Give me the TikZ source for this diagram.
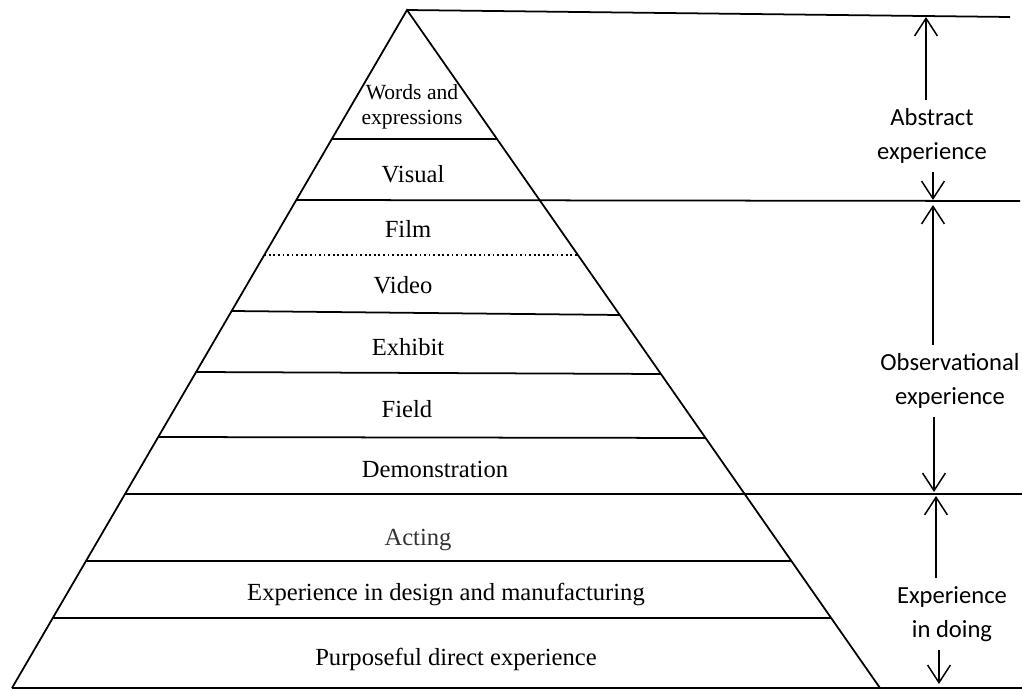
\documentclass[tikz,border=0pt]{standalone}
\usepackage{fontspec}
\setmainfont{Liberation Serif}
\newfontfamily\bandfont{Carlito}
\usetikzlibrary{arrows.meta,calc}

\begin{document}
\begin{tikzpicture}[x=0.02cm, y=-0.02cm,
  stroke/.style={line width=1pt, draw=black},
  level/.style={font=\fontsize{14}{16}\selectfont, anchor=base, inner sep=0pt},
  band/.style={font=\bandfont\fontsize{14}{19}\selectfont, align=center, inner sep=5pt},
  span/.style={-{Straight Barb[length=10pt,width=13pt,line width=0.85pt]}, line width=0.85pt},
]
\useasboundingbox (0,0) rectangle (1022,690);
\coordinate (apex) at (407,10);
\coordinate (bl) at (12,688);
\coordinate (br) at (880,688);
% pyramid and the long rules
\draw[stroke] (bl) -- (apex) -- (br);
\draw[stroke] (apex) -- (1010,17);
\draw[stroke] (bl) -- (1022,688);
\draw[stroke] ($(apex)!{190/678}!(bl)$) -- (1020,201);
\draw[stroke] ($(apex)!{484/678}!(bl)$) -- (1022,494);
\foreach \ya/\yb in {139/139, 311/315, 372/374, 437/438, 561/561, 618/618}
  \draw[stroke] ($(apex)!{(\ya-10)/678}!(bl)$) -- ($(apex)!{(\yb-10)/678}!(br)$);
\draw[line width=0.7pt, dash pattern=on 1pt off 1.6pt] ($(apex)!{245/678}!(bl)$) -- ($(apex)!{245/678}!(br)$);

% levels
\node[level, anchor=center, align=center, font=\fontsize{12.3}{14.2}\selectfont] (words) at (412,107) {Words and\\expressions};
\node[level] (visual) at (413,182) {Visual};
\node[level] (film) at (408,237) {Film};
\node[level] (video) at (403,293) {Video};
\node[level] (exhibit) at (408,355) {Exhibit};
\node[level] (field) at (407,417) {Field};
\node[level] (demo) at (435,477) {Demonstration};
\node[level, text=black!80] (acting) at (418,545) {Acting};
\node[level] (design) at (446,600) {Experience in design and manufacturing};
\node[level] (direct) at (456,665) {Purposeful direct experience};

% bands on the right
\node[band] (abs) at (932,136) {Abstract\\experience};
\node[band] (obs) at (950,381) {Observational\\experience};
\node[band] (doing) at (952,614) {Experience\\in doing};
\coordinate (abs top) at (926,17);
\coordinate (abs bot) at (933,200);
\coordinate (obs top) at (933,205);
\coordinate (obs bot) at (934,492);
\coordinate (doing top) at (936,496);
\coordinate (doing bot) at (939,684);
\draw[span] (abs.north -| abs top) -- (abs top);
\draw[span] (abs.south -| abs bot) -- (abs bot);
\draw[span] (obs.north -| obs top) -- (obs top);
\draw[span] (obs.south -| obs bot) -- (obs bot);
\draw[span] (doing.north -| doing top) -- (doing top);
\draw[span] (doing.south -| doing bot) -- (doing bot);
\end{tikzpicture}
\end{document}
